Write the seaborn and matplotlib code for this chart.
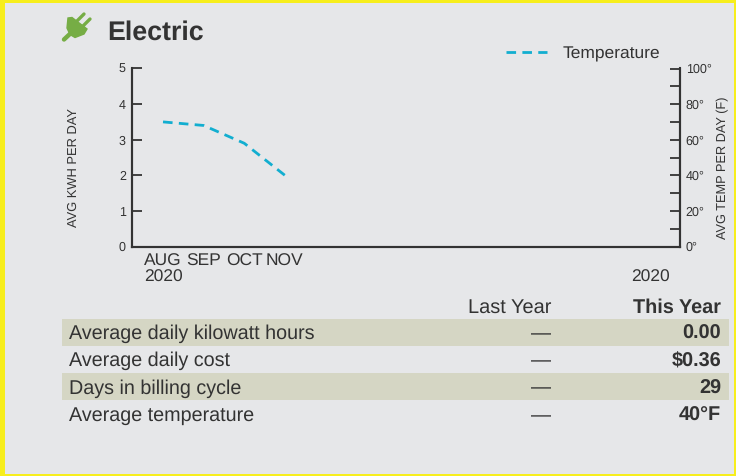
import numpy as np
import matplotlib
matplotlib.use('Agg')
import matplotlib.pyplot as plt
from matplotlib.patches import Rectangle, Polygon
import seaborn as sns

months = ['AUG', 'SEP', 'OCT', 'NOV']
years = ['2020', '', '', '']
temps = [70, 68, 58, 40]
kwh_ticks = [0, 1, 2, 3, 4, 5]
temp_ticks = [0, 10, 20, 30, 40, 50, 60, 70, 80, 90, 100]
row_names = ['Average daily kilowatt hours', 'Average daily cost', 'Days in billing cycle', 'Average temperature']
last_year = ['—', '—', '—', '—']
this_year = ['0.00', '$0.36', '29', '40°F']

W, H = 736, 476
BG = '#e6e7e9'
INK = '#333333'
BLUE = '#12aed0'
BAND = '#d5d6c4'
GREEN = '#76ad45'
YELLOW = '#f7ee1c'

sns.set_style('white')
plt.rcParams['font.family'] = ['Liberation Sans', 'DejaVu Sans']
plt.rcParams['text.hinting'] = 'none'

fig = plt.figure(figsize=(W / 100, H / 100), dpi=100, facecolor=BG)

# overlay in pixel coords for the frame, table and icon
over = fig.add_axes([0, 0, 1, 1], zorder=0)
over.set_xlim(0, W)
over.set_ylim(H, 0)
over.axis('off')
for x, y, w, h in [(0, 0, W, 3), (0, 474, W, 2), (0, 0, 5, H), (734, 0, 2, H)]:
    over.add_patch(Rectangle((x, y), w, h, color=YELLOW, lw=0))

over.add_patch(Polygon([(68, 18), (72, 17.5), (87, 29), (84, 34), (75, 37.5), (70, 34.5), (67, 28)], color=GREEN))
for x0, y0, x1, y1, lw in [(77, 21, 84, 14, 2.4), (83, 26, 90, 19, 2.4), (64, 39.5, 72, 32, 3.2)]:
    over.plot([x0, x1], [y0, y1], color=GREEN, lw=lw, solid_capstyle='round')
over.text(107, 32.5, 'Electric', fontsize=19.3, fontweight='bold', color=INK, va='center')

over.text(551, 307.5, 'Last Year', fontsize=14.4, color=INK, ha='right', va='center')
over.text(721, 307.5, 'This Year', fontsize=14.3, fontweight='bold', color=INK, ha='right', va='center')
row_y = [334, 361, 388.5, 416]
band_y = [319, None, 373, None]
for i, name in enumerate(row_names):
    if band_y[i] is not None:
        over.add_patch(Rectangle((62, band_y[i]), 667, 27, color=BAND, lw=0))
    over.text(69, row_y[i], name, fontsize=14.2, color=INK, va='center')
    over.text(551, row_y[i], last_year[i], fontsize=14.4, color=INK, ha='right', va='center')
    over.text(721, row_y[i], this_year[i], fontsize=14.3, fontweight='bold', color=INK, ha='right', va='center')

# chart
ax = fig.add_axes([131.5 / W, 1 - 246.5 / H, 548.5 / W, 178 / H], zorder=1)
ax.patch.set_visible(False)
ax.set_xlim(-0.776, 12.73)
ax.set_ylim(0, 5)
ax.set_yticks(kwh_ticks)
ax.tick_params(axis='y', direction='in', length=7.5, width=1.3, color=INK, labelsize=9, labelcolor=INK, pad=4)
for lab in ax.get_yticklabels():
    lab.set_verticalalignment('center_baseline')
positions = list(range(len(months))) + [12]
labels = [m + '\n' + y for m, y in zip(months, years)] + ['\n2020']
ax.set_xticks(positions)
ax.set_xticklabels(labels, fontsize=12.5, color=INK, linespacing=1.05)
ax.tick_params(axis='x', length=0, pad=5)
ax.set_ylabel('AVG KWH PER DAY', fontsize=9.3, color=INK, labelpad=0)
ax.yaxis.set_label_coords(-0.094, 0.444)

ax2 = ax.twinx()
ax2.patch.set_visible(False)
sns.lineplot(x=list(range(len(temps))), y=temps, ax=ax2, color=BLUE, lw=2.0,
             linestyle=(0, (3.45, 2.27)), label='Temperature')
ax2.set_ylim(0, 100)
ax2.set_yticks(temp_ticks)
ax2.set_yticklabels([f'{t}°' if t % 20 == 0 else '' for t in temp_ticks])
ax2.tick_params(axis='y', direction='in', length=7.5, width=1.3, color=INK, labelsize=9, labelcolor=INK, pad=4)
ax2.set_ylabel('AVG TEMP PER DAY (F)', fontsize=9.2, color=INK)
ax2.yaxis.set_label_coords(1.068, 0.44)

for a in (ax, ax2):
    a.spines['top'].set_visible(False)
    for side in ('left', 'right', 'bottom'):
        a.spines[side].set_linewidth(1.5)
        a.spines[side].set_color(INK)

ax2.legend(loc='center left', bbox_to_anchor=(506 / W, 1 - 54 / H), bbox_transform=fig.transFigure,
           frameon=False, fontsize=12.5, labelcolor=INK, borderpad=0, borderaxespad=0,
           handlelength=2.35, handletextpad=0.9)

fig.savefig('out.png', dpi=100, facecolor=BG)
